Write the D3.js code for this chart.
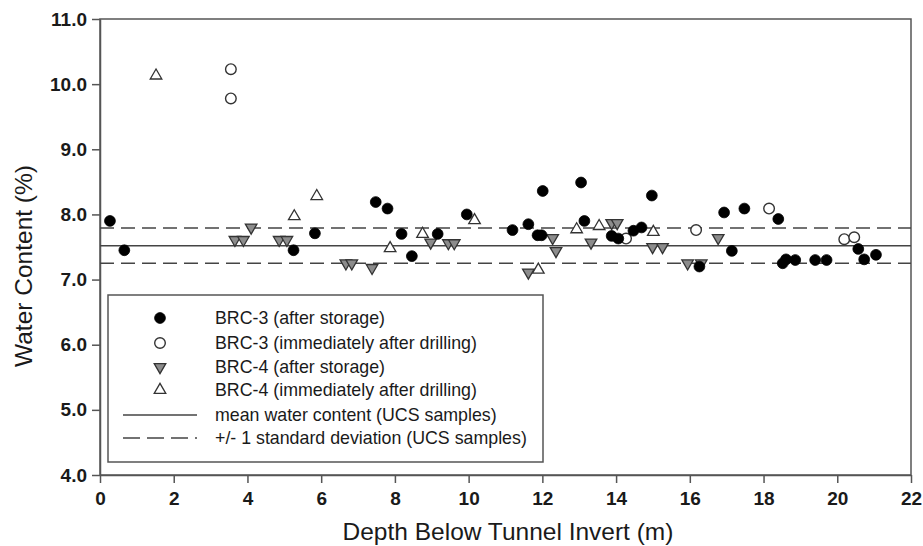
<!DOCTYPE html>
<html><head><meta charset="utf-8">
<script src="https://cdn.jsdelivr.net/npm/d3@7"></script>
<style>body{margin:0;background:#fff;} svg{display:block;} text{font-family:"Liberation Sans",Arial,sans-serif;fill:#1a1a1a;}</style>
</head><body>
<svg id="c" width="923" height="546"></svg>
<script>
// BRC-3 (after storage): [depth m, water content %]
const brc3Storage = [[0.27,7.90],[0.66,7.45],[5.25,7.45],[5.83,7.71],[7.48,8.19],[7.80,8.09],[8.18,7.70],[8.46,7.36],[9.16,7.70],[9.95,8.00],[11.19,7.76],[11.62,7.85],[11.87,7.68],[11.98,7.68],[12.01,8.36],[13.05,8.49],[13.14,7.90],[13.88,7.67],[14.06,7.63],[14.47,7.75],[14.69,7.80],[14.97,8.29],[16.26,7.20],[16.93,8.03],[17.14,7.44],[17.48,8.09],[18.40,7.93],[18.52,7.25],[18.61,7.31],[18.86,7.30],[19.40,7.30],[19.71,7.30],[20.57,7.47],[20.73,7.31],[21.05,7.38]];
// BRC-3 (immediately after drilling)
const brc3Drill = [[3.55,10.23],[3.55,9.78],[14.27,7.63],[16.17,7.76],[18.15,8.09],[20.19,7.62],[20.46,7.65]];
// BRC-4 (after storage)
const brc4Storage = [[3.66,7.61],[3.89,7.61],[4.10,7.80],[4.86,7.61],[5.07,7.61],[6.67,7.25],[6.83,7.25],[7.38,7.18],[8.97,7.57],[9.45,7.56],[9.61,7.56],[11.62,7.11],[12.28,7.64],[12.37,7.44],[13.32,7.57],[13.88,7.87],[14.03,7.87],[14.99,7.50],[15.26,7.50],[15.94,7.25],[16.31,7.25],[16.77,7.64]];
// BRC-4 (immediately after drilling)
const brc4Drill = [[1.52,10.13],[5.27,7.97],[5.88,8.28],[7.87,7.48],[8.75,7.70],[10.16,7.91],[11.89,7.15],[12.93,7.77],[13.54,7.82],[15.01,7.73]];
const meanWC = 7.52;
const sdWC = 0.27;
const xTicks = [0,2,4,6,8,10,12,14,16,18,20,22];
const yTicks = [4,5,6,7,8,9,10,11];
const legendLabels = ["BRC-3 (after storage)","BRC-3 (immediately after drilling)","BRC-4 (after storage)","BRC-4 (immediately after drilling)","mean water content (UCS samples)","+/- 1 standard deviation (UCS samples)"];

const svg = d3.select("#c");
const L=100,R=911,T=19,B=475;
const x = d3.scaleLinear().domain([0,22]).range([L,R]);
const y = d3.scaleLinear().domain([4,11]).range([B,T]);
const axCol="#555";

// frame
svg.append("rect").attr("x",L).attr("y",T).attr("width",R-L).attr("height",B-T).attr("fill","none").attr("stroke",axCol).attr("stroke-width",1.5);

const xa = svg.append("g").attr("transform",`translate(0,${B})`).call(d3.axisBottom(x).tickValues(xTicks).tickFormat(d3.format("d")).tickSize(8).tickSizeOuter(0));
const ya = svg.append("g").attr("transform",`translate(${L},0)`).call(d3.axisLeft(y).tickValues(yTicks).tickFormat(d3.format(".1f")).tickSize(8).tickSizeOuter(0));
[xa,ya].forEach(g=>{g.select(".domain").attr("stroke",axCol).attr("stroke-width",1.5);g.selectAll(".tick line").attr("stroke",axCol).attr("stroke-width",1.5);g.selectAll("text").style("font-size","19px").style("font-weight","bold").attr("fill","#1a1a1a");});
xa.selectAll("text").attr("y",17);
ya.selectAll("text").attr("x",-13);

svg.append("text").attr("x",508).attr("y",540).attr("text-anchor","middle").style("font-size","24.5px").text("Depth Below Tunnel Invert (m)");
svg.append("text").attr("transform","translate(23,266) rotate(-90)").attr("dy","0.35em").attr("text-anchor","middle").style("font-size","24.5px").text("Water Content (%)");

// reference lines
const lineCol="#444";
svg.append("line").attr("x1",L).attr("x2",R).attr("y1",y(meanWC)).attr("y2",y(meanWC)).attr("stroke",lineCol).attr("stroke-width",1.5);
[meanWC+sdWC,meanWC-sdWC].forEach(v=>svg.append("line").attr("x1",L).attr("x2",R).attr("y1",y(v)).attr("y2",y(v)).attr("stroke",lineCol).attr("stroke-width",1.5).attr("stroke-dasharray","14,7"));

const triUp = d3.symbol().type(d3.symbolTriangle).size(58);
function drawSym(g,kind,cx,cy){
  if(kind===0) g.append("circle").attr("cx",cx).attr("cy",cy).attr("r",5.4).attr("fill","#000").attr("stroke","#000").attr("stroke-width",0.8);
  else if(kind===1) g.append("circle").attr("cx",cx).attr("cy",cy).attr("r",5.3).attr("fill","#fff").attr("stroke","#333").attr("stroke-width",1.4);
  else if(kind===2) g.append("path").attr("d",triUp()).attr("transform",`translate(${cx},${cy}) rotate(180)`).attr("fill","#8c8c8c").attr("stroke","#333").attr("stroke-width",1.3);
  else g.append("path").attr("d",triUp()).attr("transform",`translate(${cx},${cy})`).attr("fill","#fff").attr("stroke","#333").attr("stroke-width",1.3);
}
const pts = svg.append("g");
[[brc3Drill,1],[brc4Drill,3],[brc4Storage,2],[brc3Storage,0]].forEach(([arr,k])=>arr.forEach(d=>drawSym(pts,k,x(d[0]),y(d[1]))));

// legend
const lg = svg.append("g");
lg.append("rect").attr("x",108).attr("y",295).attr("width",435).attr("height",167).attr("fill","#fff").attr("stroke",axCol).attr("stroke-width",1.5);
const rowY=[318,343,367,390,415,438];
legendLabels.forEach((t,i)=>{
  const yy=rowY[i];
  if(i<4) drawSym(lg,i,160,yy);
  else lg.append("line").attr("x1",123).attr("x2",197).attr("y1",yy).attr("y2",yy).attr("stroke",lineCol).attr("stroke-width",1.3).attr("stroke-dasharray",i===5?"17,7":null);
  lg.append("text").attr("x",215).attr("y",yy).attr("dy","0.35em").style("font-size","17.8px").text(t);
});
</script>
</body></html>
